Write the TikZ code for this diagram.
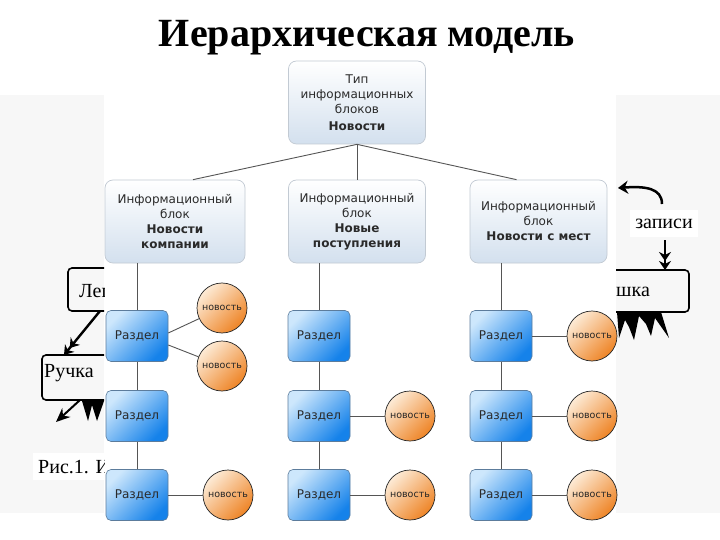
\documentclass[tikz,border=0pt]{standalone}
\usepackage{fontspec}
\setmainfont{DejaVu Sans}
\newfontfamily\titlefont{Liberation Serif}
\newfontfamily\scanfont{Liberation Serif}
\usetikzlibrary{arrows.meta}
\definecolor{pagegray}{HTML}{F7F7F7}
\definecolor{boxbottom}{HTML}{D3E0EE}
\definecolor{boxborder}{HTML}{C2CAD3}
\definecolor{razlight}{HTML}{CDE7FC}
\definecolor{razdark}{HTML}{1582EA}
\definecolor{razborder}{HTML}{5C7C9C}
\definecolor{novlight}{HTML}{FDEBD6}
\definecolor{novdark}{HTML}{EE8426}
\definecolor{txtgray}{HTML}{2A2A2A}
\definecolor{connline}{HTML}{555555}
\begin{document}
\begin{tikzpicture}[x=1pt,y=-1pt,
  lvbox/.style={draw=boxborder, line width=0.7pt, rounded corners=8pt,
    top color=white, bottom color=boxbottom, minimum height=83pt,
    align=center, text=txtgray, font=\fontsize{12}{15}\selectfont, inner sep=2pt},
  razdel/.style={draw=razborder, line width=0.6pt, rounded corners=5pt,
    top color=razlight, bottom color=razdark, shading angle=45,
    minimum width=62pt, minimum height=51pt, inner sep=0pt,
    text=txtgray, font=\fontsize{12}{13}\selectfont},
  novost/.style={circle, draw=black!85, line width=0.7pt,
    top color=novlight, bottom color=novdark, shading angle=45,
    minimum size=50pt, inner sep=0pt, text=black!85,
    font=\fontsize{9.5}{10}\selectfont},
  conn/.style={draw=connline, line width=0.9pt},
  scanline/.style={draw=black, line width=1.6pt},
  scantext/.style={font=\scanfont\fontsize{20}{22}\selectfont, inner sep=0pt},
  scanarrow/.style={draw=black, line width=2.4pt,
    -{Stealth[length=9pt,width=12pt]Stealth[length=9pt,width=12pt]}}
]
\useasboundingbox (0,0) rectangle (720,540);
% underlying page
\fill[pagegray] (0,95) rectangle (720,513);
\fill[white] (104,55) rectangle (616,528);

% left remnants of the underlying page
\begin{scope}
\clip (0,90) rectangle (104,530);
\draw[scanline, rounded corners=4pt] (68,268) rectangle (140,311);
\node[scantext, anchor=base west] (leg) at (79,297) {Лег};
\draw[scanline, rounded corners=4pt] (42,355) rectangle (140,400);
\node[scantext, anchor=base west] (ruchka) at (44,377) {Ручка};
\coordinate (legB) at (100,311);
\coordinate (ruchT) at (64,355);
\draw[scanarrow] (legB) -- (ruchT);
\coordinate (jagA) at (80,400);
\coordinate (jagB) at (56,422);
\draw[draw=black, line width=2pt, -{Stealth[length=14pt,width=12pt]}] (jagA) -- (jagB);
\fill[black] (82,401) -- (88,421) -- (92,405) -- (97,421) -- (104,401) -- cycle;
\fill[white] (33,453) rectangle (104,480);
\node[scantext, anchor=base west] (ris) at (38,473) {Рис.1. И};
\end{scope}

% right remnants of the underlying page
\begin{scope}
\clip (616,90) rectangle (720,530);
\coordinate (curvS) at (662,204);
\coordinate (curvE) at (618,188);
\draw[draw=black, line width=2.5pt, -{Stealth[length=10pt,width=13pt]}]
  (curvS) .. controls (662,188) and (645,186) .. (curvE);
\fill[white] (630,210) rectangle (698,237);
\node[scantext, anchor=base] (zap) at (664,229) {записи};
\coordinate (dnS) at (665,240);
\coordinate (dnE) at (665,270);
\draw[scanarrow] (dnS) -- (dnE);
\draw[scanline, rounded corners=4pt] (580,270) rectangle (689,312);
\node[scantext, anchor=base west] (shka) at (616,296) {шка};
\fill[black] (617,312) -- (619,338) -- (625,320) -- (629,327) -- (634,340) -- (639,316)
  -- (646,324) -- (651,336) -- (655,318) -- (669,338) -- (661,312) -- cycle;
\end{scope}

% title
\node[font=\titlefont\bfseries\fontsize{40}{44}\selectfont, anchor=base, inner sep=0pt]
  (title) at (367,47) {Иерархическая модель};

% hierarchy boxes
\node[lvbox, minimum width=137pt] (top) at (357,102.5)
  {Тип\\информационных\\блоков\\[2pt]\textbf{Новости}};
\node[lvbox, minimum width=140pt] (l2a) at (175,221.5)
  {Информационный\\блок\\\textbf{Новости}\\\textbf{компании}};
\node[lvbox, minimum width=137pt] (l2b) at (357,221.5)
  {Информационный\\блок\\\textbf{Новые}\\\textbf{поступления}};
\node[lvbox, minimum width=137pt] (l2c) at (538.5,221.5)
  {Информационный\\блок\\\textbf{Новости с мест}};

\draw[conn] (top.south) -- ([xshift=18pt]l2a.north);
\draw[conn] (top.south) -- (l2b.north);
\draw[conn] (top.south) -- ([xshift=-22pt]l2c.north);

% sections
\foreach \c/\x in {1/137,2/319,3/501}{
  \node[razdel] (r\c1) at (\x,336) {Раздел};
  \node[razdel] (r\c2) at (\x,416) {Раздел};
  \node[razdel] (r\c3) at (\x,495) {Раздел};
  \draw[conn] (r\c1.south) -- (r\c2.north);
  \draw[conn] (r\c2.south) -- (r\c3.north);
}
\draw[conn] (r11.north) -- (r11.north |- l2a.south);
\draw[conn] (r21.north) -- (r21.north |- l2b.south);
\draw[conn] (r31.north) -- (r31.north |- l2c.south);

% news circles
\node[novost] (c1a) at (222,308) {новость};
\node[novost] (c1b) at (222,366) {новость};
\node[novost] (c13) at (228,495) {новость};
\node[novost] (c22) at (410,416) {новость};
\node[novost] (c23) at (410,495) {новость};
\node[novost] (c31) at (592,336) {новость};
\node[novost] (c32) at (592,416) {новость};
\node[novost] (c33) at (592,495) {новость};

\draw[conn] ([yshift=3pt]r11.east) -- (c1a);
\draw[conn] ([yshift=-9pt]r11.east) -- (c1b);
\draw[conn] (r13) -- (c13);
\draw[conn] (r22) -- (c22);
\draw[conn] (r23) -- (c23);
\draw[conn] (r31) -- (c31);
\draw[conn] (r32) -- (c32);
\draw[conn] (r33) -- (c33);
\end{tikzpicture}
\end{document}
